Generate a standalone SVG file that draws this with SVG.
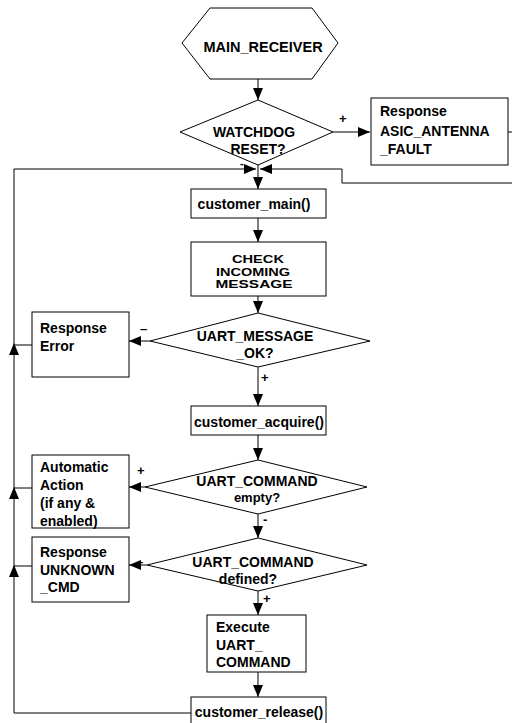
<svg xmlns="http://www.w3.org/2000/svg" width="512" height="723" viewBox="0 0 512 723">
<defs>
<style>
.s{fill:#fff;stroke:#000;stroke-width:1}
.t{font-family:"Liberation Sans",Arial,sans-serif;font-weight:bold;font-size:14px;fill:#000}
.c{text-anchor:middle}
.sm{font-size:11px}
.l{fill:none;stroke:#000;stroke-width:1}
.lb{font-family:"Liberation Sans",Arial,sans-serif;font-weight:bold;font-size:13px;fill:#000}
</style>
<marker id="a" markerUnits="userSpaceOnUse" markerWidth="12" markerHeight="10" refX="12" refY="5" orient="auto">
<path d="M0,0 L12,5 L0,10 z" fill="#000"/>
</marker>
</defs>
<rect width="512" height="723" fill="#fff"/>
<g id="connectors">
<path class="l" d="M258,79 V100" marker-end="url(#a)"/>
<path class="l" d="M333,132 H370" marker-end="url(#a)"/>
<path class="l" d="M508,132 H512"/>
<path class="l" d="M512,183 H342 V169 H260" marker-end="url(#a)"/>
<path class="l" d="M191,713 H14 V169 H256" marker-end="url(#a)"/>
<path class="l" d="M258,165 V189" marker-end="url(#a)"/>
<path class="l" d="M258,218 V242" marker-end="url(#a)"/>
<path class="l" d="M258,296 V313" marker-end="url(#a)"/>
<path class="l" d="M150,341 H129" marker-end="url(#a)"/>
<path class="l" d="M32,345 H14"/>
<path d="M14,343 L19,355 L9,355 z" fill="#000"/>
<path class="l" d="M258,367 V406" marker-end="url(#a)"/>
<path class="l" d="M258,435 V460" marker-end="url(#a)"/>
<path class="l" d="M145,487 H129" marker-end="url(#a)"/>
<path class="l" d="M32,488 H14"/>
<path d="M14,487 L19,499 L9,499 z" fill="#000"/>
<path class="l" d="M258,514 V538" marker-end="url(#a)"/>
<path class="l" d="M147,565 H129" marker-end="url(#a)"/>
<path class="l" d="M32,566 H14"/>
<path d="M14,565 L19,577 L9,577 z" fill="#000"/>
<path class="l" d="M258,591 V615" marker-end="url(#a)"/>
<path class="l" d="M258,672 V697" marker-end="url(#a)"/>
<text class="lb" x="339" y="123">+</text>
<text class="lb" x="240" y="167" style="font-size:11px">-</text>
<text class="lb" x="140" y="333">–</text>
<text class="lb" x="261" y="382">+</text>
<text class="lb" x="137" y="475">+</text>
<text class="lb" x="263" y="524">-</text>
<text class="lb" x="136" y="566">–</text>
<text class="lb" x="263" y="603">+</text>
</g>
<g id="main_receiver">
<polygon class="s" points="182,43 210,8 312,8 338,43 312,79 210,79"/>
<text class="t c" x="263" y="52" style="font-size:14.5px">MAIN_RECEIVER</text>
</g>
<g id="watchdog">
<polygon class="s" points="180,132 258,100 333,132 258,165"/>
<text class="t c" x="254" y="137">WATCHDOG</text>
<text class="t c" x="258" y="154">RESET?</text>
</g>
<g id="asic_fault">
<rect class="s" x="371" y="98" width="137" height="67"/>
<text class="t" x="380" y="116">Response</text>
<text class="t" x="380" y="136">ASIC_ANTENNA</text>
<text class="t" x="380" y="154">_FAULT</text>
</g>
<g id="customer_main">
<rect class="s" x="191" y="189" width="135" height="29"/>
<text class="t c" x="254" y="209">customer_main()</text>
</g>
<g id="check_incoming">
<rect class="s" x="191" y="242" width="135" height="54"/>
<text class="t c sm" x="258" y="263" textLength="52" lengthAdjust="spacingAndGlyphs">CHECK</text>
<text class="t c sm" x="253" y="275.5" textLength="74" lengthAdjust="spacingAndGlyphs">INCOMING</text>
<text class="t c sm" x="254" y="288" textLength="77" lengthAdjust="spacingAndGlyphs">MESSAGE</text>
</g>
<g id="uart_message_ok">
<polygon class="s" points="150,341 258,313 370,341 258,367"/>
<text class="t c" x="255" y="341">UART_MESSAGE</text>
<text class="t c" x="255" y="358">_OK?</text>
</g>
<g id="response_error">
<rect class="s" x="32" y="312" width="97" height="65"/>
<text class="t" x="40" y="333">Response</text>
<text class="t" x="40" y="351">Error</text>
</g>
<g id="customer_acquire">
<rect class="s" x="191" y="406" width="135" height="29"/>
<text class="t c" x="259" y="427">customer_acquire()</text>
</g>
<g id="uart_command_empty">
<polygon class="s" points="145,487 258,460 367,487 258,514"/>
<text class="t c" x="257" y="486">UART_COMMAND</text>
<text class="t c" x="257" y="502" style="font-size:13px">empty?</text>
</g>
<g id="automatic_action">
<rect class="s" x="32" y="455" width="97" height="73"/>
<text class="t" x="40" y="472">Automatic</text>
<text class="t" x="40" y="490">Action</text>
<text class="t" x="40" y="508">(if any &amp;</text>
<text class="t" x="40" y="526">enabled)</text>
</g>
<g id="uart_command_defined">
<polygon class="s" points="147,565 258,538 367,565 258,591"/>
<text class="t c" x="253" y="567">UART_COMMAND</text>
<text class="t c" x="248" y="584">defined?</text>
</g>
<g id="response_unknown">
<rect class="s" x="32" y="537" width="97" height="65"/>
<text class="t" x="40" y="557">Response</text>
<text class="t" x="40" y="575">UNKNOWN</text>
<text class="t" x="40" y="592">_CMD</text>
</g>
<g id="execute_command">
<rect class="s" x="207" y="615" width="99" height="57"/>
<text class="t" x="216" y="632">Execute</text>
<text class="t" x="216" y="650">UART_</text>
<text class="t" x="216" y="667">COMMAND</text>
</g>
<g id="customer_release">
<rect class="s" x="191" y="697" width="135" height="30"/>
<text class="t c" x="259" y="717">customer_release()</text>
</g>
</svg>
